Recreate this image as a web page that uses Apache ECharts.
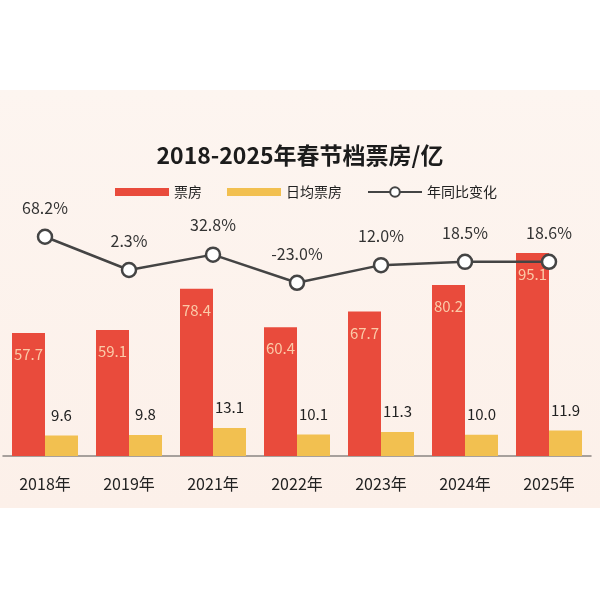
<!DOCTYPE html>
<html>
<head>
<meta charset="utf-8">
<style>
  html, body { margin: 0; padding: 0; background: #ffffff; }
  #chart { width: 600px; height: 600px; }
</style>
<script src="https://cdn.jsdelivr.net/npm/echarts@6/dist/echarts.min.js"></script>
</head>
<body>
<div id="chart"></div>
<script>
const years = ['2018年', '2019年', '2021年', '2022年', '2023年', '2024年', '2025年'];
const boxOffice = [57.7, 59.1, 78.4, 60.4, 67.7, 80.2, 95.1];
const dailyBoxOffice = [9.6, 9.8, 13.1, 10.1, 11.3, 10.0, 11.9];
const yoyChange = [68.2, 2.3, 32.8, -23.0, 12.0, 18.5, 18.6];

const font = '"Noto Sans CJK SC", "Noto Sans", sans-serif';

const chart = echarts.init(document.getElementById('chart'));

const option = {
    backgroundColor: '#ffffff',
    textStyle: { fontFamily: font },
    graphic: {
        z: -10,
        elements: [{
            type: 'rect',
            z: -10,
            silent: true,
            shape: { x: 0, y: 90, width: 600, height: 418 },
            style: {
                fill: {
                    type: 'linear', x: 0, y: 0, x2: 0, y2: 1,
                    colorStops: [
                        { offset: 0, color: '#fdf5f0' },
                        { offset: 1, color: '#fcf0e9' }
                    ]
                }
            }
        }]
    },
    title: {
        text: '2018-2025年春节档票房/亿',
        left: 'center',
        top: 139,
        textStyle: {
            fontFamily: font,
            fontSize: 23,
            fontWeight: 'bold',
            color: '#1c1c1c'
        }
    },
    legend: {
        left: 110,
        top: 180,
        itemWidth: 54,
        itemHeight: 12,
        itemGap: 25,
        textStyle: { fontFamily: font, fontSize: 14, color: '#222' },
        data: [
            { name: '票房', icon: 'path://M0,0h54v8h-54z' },
            { name: '日均票房', icon: 'path://M0,0h54v8h-54z' },
            { name: '年同比变化' }
        ]
    },
    grid: { left: 3, right: 9, top: 200, bottom: 144 },
    xAxis: {
        type: 'category',
        data: years,
        axisLine: { lineStyle: { color: '#8a8582', width: 1.5 } },
        axisTick: { show: false },
        axisLabel: { fontFamily: font, fontSize: 16, color: '#222', margin: 20 }
    },
    yAxis: [
        { type: 'value', min: 0, max: 120, show: false },
        { type: 'value', min: -366, max: 141, show: false }
    ],
    series: [
        {
            name: '票房',
            type: 'bar',
            data: boxOffice,
            barWidth: 33,
            barGap: '0%',
            itemStyle: { color: '#e94b3c' },
            label: {
                show: true,
                position: 'insideTop',
                distance: 14,
                fontFamily: font,
                fontSize: 15,
                color: '#fbcaa8',
                formatter: p => p.value.toFixed(1)
            }
        },
        {
            name: '日均票房',
            type: 'bar',
            data: dailyBoxOffice,
            barWidth: 33,
            itemStyle: { color: '#f2c050' },
            label: {
                show: true,
                position: 'top',
                distance: 13,
                fontFamily: font,
                fontSize: 15,
                color: '#222',
                formatter: p => p.value.toFixed(1)
            }
        },
        {
            name: '年同比变化',
            type: 'line',
            yAxisIndex: 1,
            data: yoyChange,
            symbol: 'circle',
            symbolSize: 14,
            z: 5,
            lineStyle: { color: '#444', width: 2.5 },
            itemStyle: { color: '#ffffff', borderColor: '#444', borderWidth: 2.5 },
            label: {
                show: true,
                position: 'top',
                distance: 13,
                fontFamily: font,
                fontSize: 16,
                color: '#333',
                formatter: p => p.value.toFixed(1) + '%'
            }
        }
    ]
};

chart.setOption(option);
</script>
</body>
</html>
